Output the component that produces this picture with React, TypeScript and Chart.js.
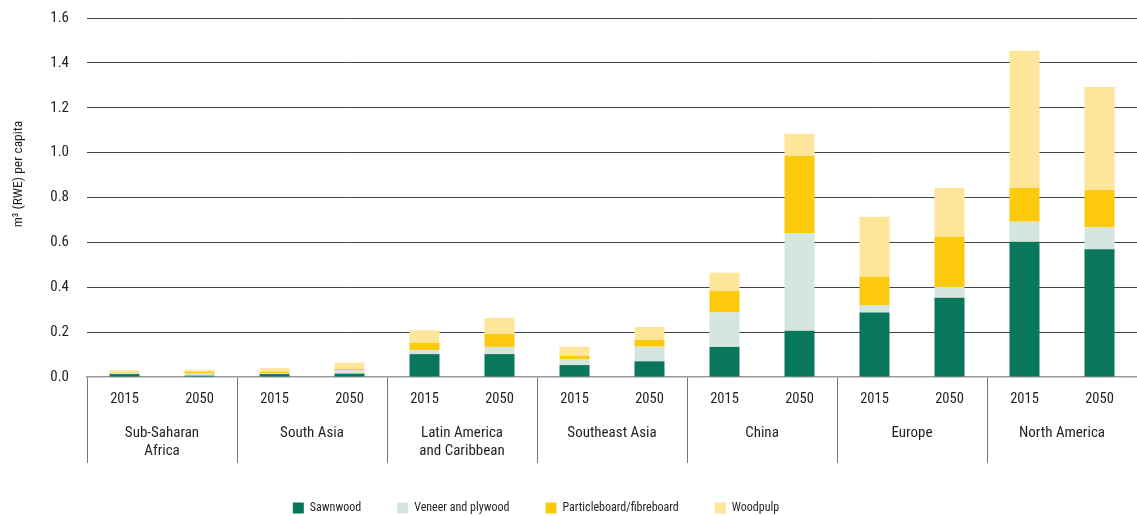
import { useEffect, useRef } from 'react';
import { Chart, registerables } from 'chart.js';

Chart.register(...registerables);

const regions: string[][] = [
  ['Sub-Saharan', 'Africa'],
  ['South Asia'],
  ['Latin America', 'and Caribbean'],
  ['Southeast Asia'],
  ['China'],
  ['Europe'],
  ['North America'],
];
const years = ['2015', '2050'];
const xLabels = regions.flatMap(() => years);

const sawnwood = [0.013, 0.006, 0.013, 0.015, 0.102, 0.102, 0.053, 0.070, 0.134, 0.206, 0.287, 0.353, 0.603, 0.569];
const veneer = [0.006, 0.009, 0.002, 0.016, 0.018, 0.032, 0.027, 0.065, 0.154, 0.436, 0.034, 0.048, 0.089, 0.098];
const particleboard = [0.003, 0.009, 0.009, 0.005, 0.032, 0.058, 0.014, 0.030, 0.095, 0.344, 0.126, 0.223, 0.152, 0.166];
const woodpulp = [0.008, 0.008, 0.016, 0.028, 0.056, 0.071, 0.041, 0.058, 0.082, 0.098, 0.267, 0.220, 0.610, 0.459];

const seriesNames = ['Sawnwood', 'Veneer and plywood', 'Particleboard/fibreboard', 'Woodpulp'];
const seriesColors = ['#08775B', '#D5E6DF', '#FCC90C', '#FDE699'];

const yTitle = 'm³ (RWE) per capita';
const yMin = 0;
const yMax = 1.6;
const yStep = 0.2;

const FONT = "'Roboto Condensed', 'Liberation Sans', sans-serif";
const TEXT = '#231f20';

const extrasPlugin = {
  id: 'extras',
  afterDraw(chart: any) {
    const xs = chart.scales.x;
    const ctx = chart.ctx;
    ctx.save();
    ctx.fillStyle = TEXT;
    ctx.font = `15px ${FONT}`;
    ctx.textAlign = 'center';
    ctx.textBaseline = 'middle';
    regions.forEach((lines, g) => {
      const cx = (xs.getPixelForValue(g * 2) + xs.getPixelForValue(g * 2 + 1)) / 2;
      lines.forEach((line, i) => {
        ctx.fillText(line, cx, xs.top + 56 + i * 18);
      });
    });
    // y axis title
    ctx.font = `13.5px ${FONT}`;
    ctx.translate(19, 174);
    ctx.rotate(-Math.PI / 2);
    ctx.fillText(yTitle, 0, 0);
    ctx.restore();
  },
};

const legendShiftPlugin = {
  id: 'legendShift',
  afterLayout(chart: any) {
    const lg = chart.legend;
    if (!lg) return;
    lg.left -= 39;
    lg.right -= 39;
    lg.top += 8;
    lg.bottom += 8;
  },
};

export default function App() {
  const ref = useRef<HTMLCanvasElement | null>(null);

  useEffect(() => {
    document.body.style.margin = '0';
    document.body.style.overflow = 'hidden';
    const values = [sawnwood, veneer, particleboard, woodpulp];
    const chart = new Chart(ref.current as HTMLCanvasElement, {
      type: 'bar',
      data: {
        labels: xLabels,
        datasets: seriesNames.map((name, i) => ({
          label: name,
          data: values[i],
          backgroundColor: seriesColors[i],
          borderWidth: 0,
          barPercentage: 0.4,
          categoryPercentage: 1,
        })),
      },
      options: {
        responsive: false,
        animation: false,
        layout: { autoPadding: false, padding: { top: 18, left: 6, right: -7, bottom: 0 } },
        plugins: {
          tooltip: { enabled: false },
          legend: {
            position: 'bottom',
            labels: {
              boxWidth: 11,
              boxHeight: 11,
              padding: 36,
              color: TEXT,
              font: { family: FONT, size: 12 },
            },
          },
        },
        scales: {
          x: {
            stacked: true,
            afterFit: (s: any) => {
              s.height = 81;
            },
            grid: {
              offset: true,
              drawOnChartArea: false,
              drawTicks: true,
              tickLength: 86,
              lineWidth: 1,
              color: (c: any) => (c.index % 2 === 0 ? '#777' : 'rgba(0,0,0,0)'),
            },
            border: { display: true, color: '#999', width: 1.5 },
            ticks: {
              autoSkip: false,
              maxRotation: 0,
              padding: -72,
              color: TEXT,
              font: { family: FONT, size: 14.5 },
            },
          },
          y: {
            stacked: true,
            min: yMin,
            max: yMax,
            afterFit: (s: any) => {
              s.width = 81;
            },
            grid: {
              drawTicks: true,
              tickLength: 18,
              tickColor: 'rgba(0,0,0,0)',
              color: (c: any) => (c.index === 0 ? 'rgba(0,0,0,0)' : '#444'),
              lineWidth: 1,
            },
            border: { display: false },
            ticks: {
              stepSize: yStep,
              padding: 0,
              color: TEXT,
              font: { family: FONT, size: 15 },
              callback: (v: any) => Number(v).toFixed(1),
            },
          },
        },
      },
      plugins: [extrasPlugin, legendShiftPlugin],
    });
    return () => chart.destroy();
  }, []);

  return <canvas ref={ref} width={1137} height={516} style={{ display: 'block' }} />;
}
